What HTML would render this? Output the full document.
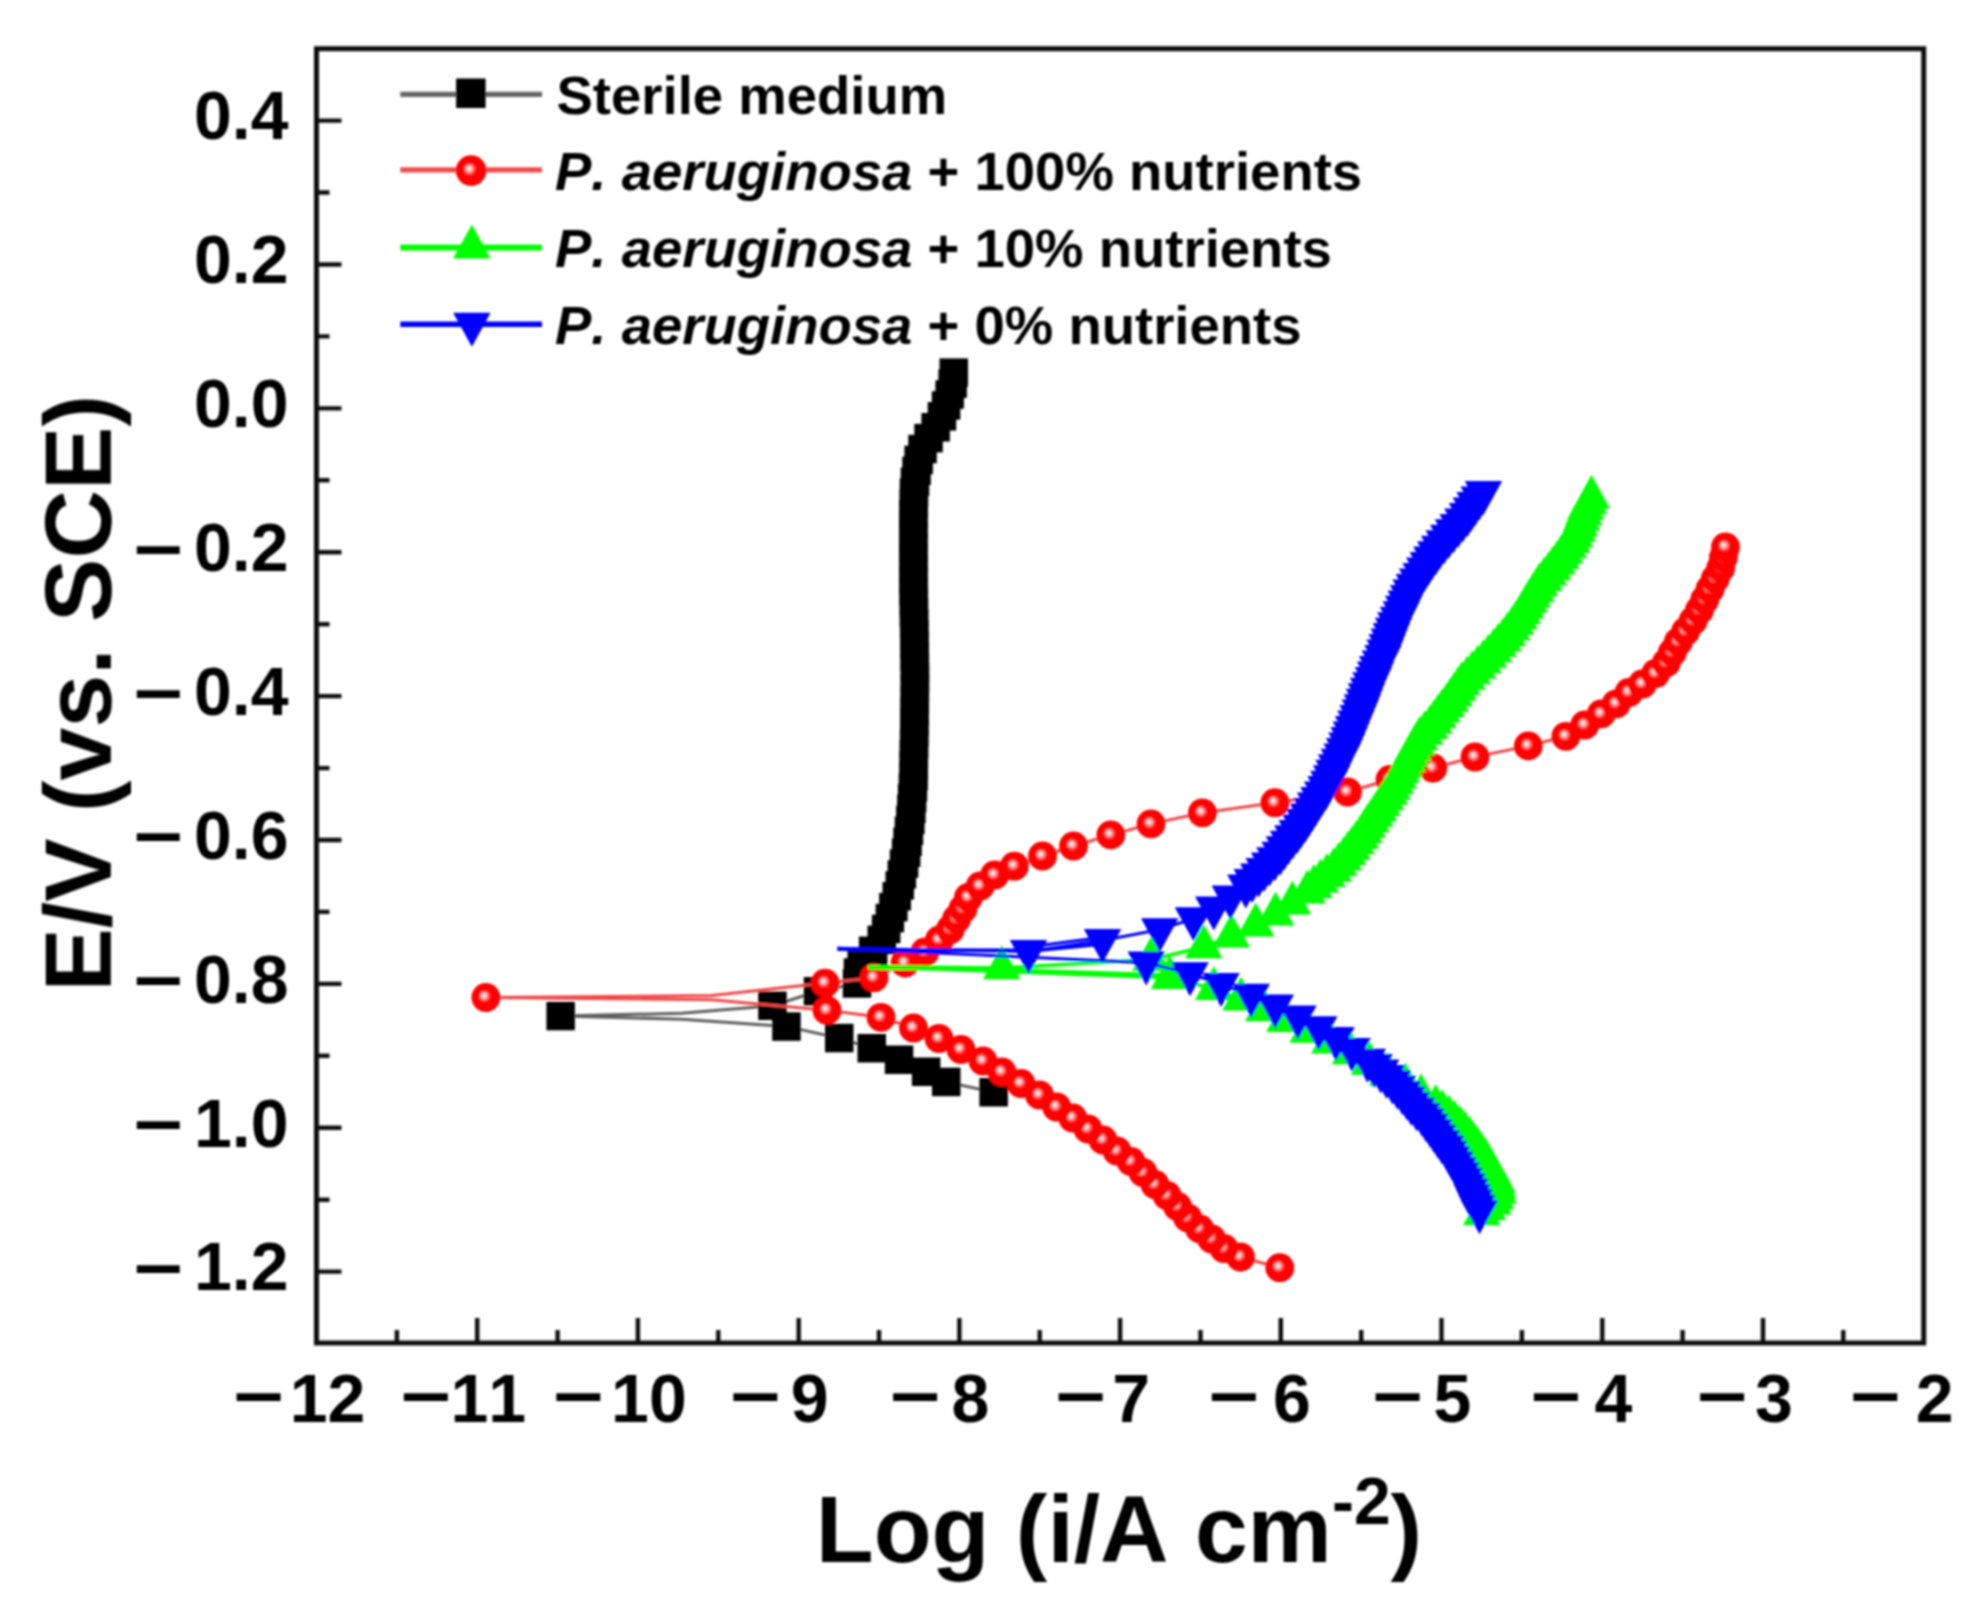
<!DOCTYPE html><html><head><meta charset="utf-8"><title>Potentiodynamic polarization curves</title><style>html,body{margin:0;padding:0;background:#fff}svg{display:block}text{font-family:"Liberation Sans",Arial,Helvetica,sans-serif;font-kerning:none}</style></head><body><svg width="1986" height="1610" viewBox="0 0 1986 1610"><defs><radialGradient id="rg" cx="0.5" cy="0.5" r="0.5" fx="0.42" fy="0.42"><stop offset="0" stop-color="#fff0f0"/><stop offset="0.12" stop-color="#ffd4d4"/><stop offset="0.27" stop-color="#ff7a7a"/><stop offset="0.4" stop-color="#ff0808"/><stop offset="1" stop-color="#ff0000"/></radialGradient><circle id="rc" r="14.4" fill="url(#rg)"/><filter id="bl" x="0" y="0" width="100%" height="100%" filterUnits="userSpaceOnUse"><feGaussianBlur stdDeviation="1.05"/></filter></defs><g filter="url(#bl)" font-family="'Liberation Sans', Arial, Helvetica, sans-serif"><rect x="316.5" y="48.7" width="1607.2" height="1294.3" fill="none" stroke="#111" stroke-width="5.0"/><path d="M396.9 1343V1330M477.2 1343V1318M557.6 1343V1330M637.9 1343V1318M718.3 1343V1330M798.7 1343V1318M879 1343V1330M959.4 1343V1318M1039.7 1343V1330M1120.1 1343V1318M1200.5 1343V1330M1280.8 1343V1318M1361.2 1343V1330M1441.5 1343V1318M1521.9 1343V1330M1602.3 1343V1318M1682.6 1343V1330M1763 1343V1318M1843.3 1343V1330M316.5 120.6H341.5M316.5 192.5H329.5M316.5 264.5H341.5M316.5 336.4H329.5M316.5 408.4H341.5M316.5 480.3H329.5M316.5 552.2H341.5M316.5 624.2H329.5M316.5 696.1H341.5M316.5 768.1H329.5M316.5 840H341.5M316.5 911.9H329.5M316.5 983.9H341.5M316.5 1055.8H329.5M316.5 1127.8H341.5M316.5 1199.7H329.5M316.5 1271.6H341.5" stroke="#111" stroke-width="4.4" fill="none"/><g font-weight="bold" fill="#000"><text font-size="68"><tspan x="288.5" y="139.4" text-anchor="end">0.4</tspan></text><text font-size="68"><tspan x="288.5" y="283.3" text-anchor="end">0.2</tspan></text><text font-size="68"><tspan x="288.5" y="427.2" text-anchor="end">0.0</tspan></text><text font-size="68"><tspan x="133.3" y="573.6" font-size="71.4" textLength="50" lengthAdjust="spacingAndGlyphs">−</tspan><tspan x="288.5" y="571" text-anchor="end">0.2</tspan></text><text font-size="68"><tspan x="133.3" y="717.5" font-size="71.4" textLength="50" lengthAdjust="spacingAndGlyphs">−</tspan><tspan x="288.5" y="714.9" text-anchor="end">0.4</tspan></text><text font-size="68"><tspan x="133.3" y="861.4" font-size="71.4" textLength="50" lengthAdjust="spacingAndGlyphs">−</tspan><tspan x="288.5" y="858.8" text-anchor="end">0.6</tspan></text><text font-size="68"><tspan x="133.3" y="1005.3" font-size="71.4" textLength="50" lengthAdjust="spacingAndGlyphs">−</tspan><tspan x="288.5" y="1002.7" text-anchor="end">0.8</tspan></text><text font-size="68"><tspan x="133.3" y="1149.2" font-size="71.4" textLength="50" lengthAdjust="spacingAndGlyphs">−</tspan><tspan x="288.5" y="1146.6" text-anchor="end">1.0</tspan></text><text font-size="68"><tspan x="133.3" y="1293" font-size="71.4" textLength="50" lengthAdjust="spacingAndGlyphs">−</tspan><tspan x="288.5" y="1290.4" text-anchor="end">1.2</tspan></text><text font-size="68"><tspan x="233" y="1421" font-size="71.4" textLength="51.2" lengthAdjust="spacingAndGlyphs">−</tspan><tspan x="327.5" y="1422.2" text-anchor="middle">12</tspan></text><text font-size="68"><tspan x="400.2" y="1421" font-size="71.4" textLength="51.2" lengthAdjust="spacingAndGlyphs">−</tspan><tspan x="488.2" y="1422.2" text-anchor="middle">11</tspan></text><text font-size="68"><tspan x="552.7" y="1421" font-size="71.4" textLength="51.2" lengthAdjust="spacingAndGlyphs">−</tspan><tspan x="648.9" y="1422.2" text-anchor="middle">10</tspan></text><text font-size="68"><tspan x="729.7" y="1421" font-size="71.4" textLength="51.2" lengthAdjust="spacingAndGlyphs">−</tspan><tspan x="809.7" y="1422.2" text-anchor="middle">9</tspan></text><text font-size="68"><tspan x="889.4" y="1421" font-size="71.4" textLength="51.2" lengthAdjust="spacingAndGlyphs">−</tspan><tspan x="970.4" y="1422.2" text-anchor="middle">8</tspan></text><text font-size="68"><tspan x="1055.1" y="1421" font-size="71.4" textLength="51.2" lengthAdjust="spacingAndGlyphs">−</tspan><tspan x="1131.1" y="1422.2" text-anchor="middle">7</tspan></text><text font-size="68"><tspan x="1208.3" y="1421" font-size="71.4" textLength="51.2" lengthAdjust="spacingAndGlyphs">−</tspan><tspan x="1291.8" y="1422.2" text-anchor="middle">6</tspan></text><text font-size="68"><tspan x="1372" y="1421" font-size="71.4" textLength="51.2" lengthAdjust="spacingAndGlyphs">−</tspan><tspan x="1452.5" y="1422.2" text-anchor="middle">5</tspan></text><text font-size="68"><tspan x="1530.3" y="1421" font-size="71.4" textLength="51.2" lengthAdjust="spacingAndGlyphs">−</tspan><tspan x="1613.3" y="1422.2" text-anchor="middle">4</tspan></text><text font-size="68"><tspan x="1696.5" y="1421" font-size="71.4" textLength="51.2" lengthAdjust="spacingAndGlyphs">−</tspan><tspan x="1774" y="1422.2" text-anchor="middle">3</tspan></text><text font-size="68"><tspan x="1849.7" y="1421" font-size="71.4" textLength="51.2" lengthAdjust="spacingAndGlyphs">−</tspan><tspan x="1934.7" y="1422.2" text-anchor="middle">2</tspan></text></g><text transform="translate(110.8 693.3) rotate(-90)" text-anchor="middle" font-size="95" font-weight="bold">E/V (vs. SCE)</text><text x="815.8" y="1561.5" font-size="94.8" font-weight="bold">Log (i/A cm<tspan font-size="66" dy="-38">-2</tspan><tspan dy="38">)</tspan></text><g fill="none" stroke="#5e5e5e" stroke-width="3"><path d="M953.7 372.7L952.6 383.6L949.6 394.5L946.1 405.4L941.9 416.3L935.6 427.2L928.6 438.1L922.5 449L918.6 460L916.6 470.9L915 481.8L914 492.7L913.7 503.6L913.5 514.5L913.3 525.4L913.4 536.3L913.4 547.2L913.4 558.1L913.5 569L913.5 579.9L913.7 590.8L913.8 601.8L914 612.7L914.2 623.6L914.3 634.5L914.5 645.4L914.6 656.3L914.8 667.2L915 678.1L914.9 689L914.7 699.9L914.5 710.8L914.4 721.7L914.2 732.6L914 743.5L913.9 754.5L913.7 765.4L913.6 776.3L913 787.2L912.1 798.1L911.3 809L910.3 819.9L908.9 830.8L907.6 841.7L906.2 852.6L904 863.5L901.9 874.4L899.7 885.3L896.7 896.2L893.3 907.1L889.9 918.1L886.1 929L881.8 939.9L873.2 950.8L861.8 961.7L857.9 972.6L857 983.5L818 991.3L772.5 1005.8L681.7 1013.2L560.6 1016L681.7 1019.2L786.5 1026.6L839.3 1038.1L871.8 1048.2L899 1059.7L926.1 1071.8L946.3 1081.9L993.6 1092.3"/></g><g fill="#000"><rect x="939.5" y="358.4" width="28.5" height="28.5"/><rect x="938.4" y="369.4" width="28.5" height="28.5"/><rect x="935.4" y="380.3" width="28.5" height="28.5"/><rect x="931.8" y="391.2" width="28.5" height="28.5"/><rect x="927.7" y="402.1" width="28.5" height="28.5"/><rect x="921.4" y="413" width="28.5" height="28.5"/><rect x="914.3" y="423.9" width="28.5" height="28.5"/><rect x="908.3" y="434.8" width="28.5" height="28.5"/><rect x="904.4" y="445.7" width="28.5" height="28.5"/><rect x="902.3" y="456.6" width="28.5" height="28.5"/><rect x="900.7" y="467.5" width="28.5" height="28.5"/><rect x="899.7" y="478.4" width="28.5" height="28.5"/><rect x="899.5" y="489.3" width="28.5" height="28.5"/><rect x="899.2" y="500.2" width="28.5" height="28.5"/><rect x="899.1" y="511.1" width="28.5" height="28.5"/><rect x="899.1" y="522.1" width="28.5" height="28.5"/><rect x="899.1" y="533" width="28.5" height="28.5"/><rect x="899.2" y="543.9" width="28.5" height="28.5"/><rect x="899.2" y="554.8" width="28.5" height="28.5"/><rect x="899.2" y="565.7" width="28.5" height="28.5"/><rect x="899.4" y="576.6" width="28.5" height="28.5"/><rect x="899.6" y="587.5" width="28.5" height="28.5"/><rect x="899.7" y="598.4" width="28.5" height="28.5"/><rect x="899.9" y="609.3" width="28.5" height="28.5"/><rect x="900.1" y="620.2" width="28.5" height="28.5"/><rect x="900.2" y="631.1" width="28.5" height="28.5"/><rect x="900.4" y="642" width="28.5" height="28.5"/><rect x="900.6" y="652.9" width="28.5" height="28.5"/><rect x="900.7" y="663.8" width="28.5" height="28.5"/><rect x="900.6" y="674.8" width="28.5" height="28.5"/><rect x="900.5" y="685.7" width="28.5" height="28.5"/><rect x="900.3" y="696.6" width="28.5" height="28.5"/><rect x="900.1" y="707.5" width="28.5" height="28.5"/><rect x="900" y="718.4" width="28.5" height="28.5"/><rect x="899.8" y="729.3" width="28.5" height="28.5"/><rect x="899.6" y="740.2" width="28.5" height="28.5"/><rect x="899.5" y="751.1" width="28.5" height="28.5"/><rect x="899.3" y="762" width="28.5" height="28.5"/><rect x="898.7" y="772.9" width="28.5" height="28.5"/><rect x="897.9" y="783.8" width="28.5" height="28.5"/><rect x="897.1" y="794.7" width="28.5" height="28.5"/><rect x="896.1" y="805.6" width="28.5" height="28.5"/><rect x="894.7" y="816.5" width="28.5" height="28.5"/><rect x="893.3" y="827.5" width="28.5" height="28.5"/><rect x="891.9" y="838.4" width="28.5" height="28.5"/><rect x="889.8" y="849.3" width="28.5" height="28.5"/><rect x="887.6" y="860.2" width="28.5" height="28.5"/><rect x="885.5" y="871.1" width="28.5" height="28.5"/><rect x="882.5" y="882" width="28.5" height="28.5"/><rect x="879.1" y="892.9" width="28.5" height="28.5"/><rect x="875.6" y="903.8" width="28.5" height="28.5"/><rect x="871.9" y="914.7" width="28.5" height="28.5"/><rect x="867.5" y="925.6" width="28.5" height="28.5"/><rect x="858.9" y="936.5" width="28.5" height="28.5"/><rect x="847.5" y="947.4" width="28.5" height="28.5"/><rect x="843.7" y="958.3" width="28.5" height="28.5"/><rect x="842.8" y="969.2" width="28.5" height="28.5"/><rect x="803.8" y="977" width="28.5" height="28.5"/><rect x="758.2" y="991.5" width="28.5" height="28.5"/><rect x="546.4" y="1001.8" width="28.5" height="28.5"/><rect x="772.2" y="1012.3" width="28.5" height="28.5"/><rect x="825" y="1023.8" width="28.5" height="28.5"/><rect x="857.5" y="1034" width="28.5" height="28.5"/><rect x="884.8" y="1045.5" width="28.5" height="28.5"/><rect x="911.9" y="1057.5" width="28.5" height="28.5"/><rect x="932" y="1067.7" width="28.5" height="28.5"/><rect x="979.4" y="1078" width="28.5" height="28.5"/></g><g fill="none" stroke="#f24646" stroke-width="3"><path d="M1725.5 547L1723.4 557.5L1720.7 568.1L1715.3 578.6L1710 589.2L1704.7 599.7L1699.4 610.2L1693.1 620.8L1685.7 631.3L1678.4 641.8L1672.3 652.4L1666.2 662.9L1655.7 673.5L1642.4 684L1629 692.5L1616.3 703.8L1601.2 713.9L1584.8 725L1565.9 736.3L1528.3 745.9L1475 757L1432.8 768L1390 779.5L1347.5 792L1274.9 802.7L1202.4 812.8L1151 823.9L1110.8 834.9L1073.5 846L1042.5 856L1014.4 866.2L994.7 875L980.2 886L968.4 897.5L963 908.8L956.5 919L950.3 929.5L939.4 940L924.9 952L905 963L874 977.7L825.1 983.1L711.9 995.6L485.9 997.5L711.9 999.8L827 1010.3L881 1017.3L913.5 1028L939 1038.5L961 1049.5L983 1061L1002 1072L1021 1083.5L1039.5 1095L1056.7 1107L1072.8 1118L1088 1129L1103 1140L1117 1151L1131 1161.5L1143 1172.5L1155 1184.5L1167 1195.5L1177.5 1206.5L1187.6 1217.8L1199.7 1228.9L1211.7 1239L1224 1248.5L1240.5 1257L1279.8 1267.7"/></g><g><use href="#rc" x="1279.8" y="1267.7"/><use href="#rc" x="1240.5" y="1257"/><use href="#rc" x="1224" y="1248.5"/><use href="#rc" x="1211.7" y="1239"/><use href="#rc" x="1199.7" y="1228.9"/><use href="#rc" x="1187.6" y="1217.8"/><use href="#rc" x="1177.5" y="1206.5"/><use href="#rc" x="1167" y="1195.5"/><use href="#rc" x="1155" y="1184.5"/><use href="#rc" x="1143" y="1172.5"/><use href="#rc" x="1131" y="1161.5"/><use href="#rc" x="1117" y="1151"/><use href="#rc" x="1103" y="1140"/><use href="#rc" x="1088" y="1129"/><use href="#rc" x="1072.8" y="1118"/><use href="#rc" x="1056.7" y="1107"/><use href="#rc" x="1039.5" y="1095"/><use href="#rc" x="1021" y="1083.5"/><use href="#rc" x="1002" y="1072"/><use href="#rc" x="983" y="1061"/><use href="#rc" x="961" y="1049.5"/><use href="#rc" x="939" y="1038.5"/><use href="#rc" x="913.5" y="1028"/><use href="#rc" x="881" y="1017.3"/><use href="#rc" x="827" y="1010.3"/><use href="#rc" x="485.9" y="997.5"/><use href="#rc" x="825.1" y="983.1"/><use href="#rc" x="874" y="977.7"/><use href="#rc" x="905" y="963"/><use href="#rc" x="924.9" y="952"/><use href="#rc" x="939.4" y="940"/><use href="#rc" x="950.3" y="929.5"/><use href="#rc" x="956.5" y="919"/><use href="#rc" x="963" y="908.8"/><use href="#rc" x="968.4" y="897.5"/><use href="#rc" x="980.2" y="886"/><use href="#rc" x="994.7" y="875"/><use href="#rc" x="1014.4" y="866.2"/><use href="#rc" x="1042.5" y="856"/><use href="#rc" x="1073.5" y="846"/><use href="#rc" x="1110.8" y="834.9"/><use href="#rc" x="1151" y="823.9"/><use href="#rc" x="1202.4" y="812.8"/><use href="#rc" x="1274.9" y="802.7"/><use href="#rc" x="1347.5" y="792"/><use href="#rc" x="1390" y="779.5"/><use href="#rc" x="1432.8" y="768"/><use href="#rc" x="1475" y="757"/><use href="#rc" x="1528.3" y="745.9"/><use href="#rc" x="1565.9" y="736.3"/><use href="#rc" x="1584.8" y="725"/><use href="#rc" x="1601.2" y="713.9"/><use href="#rc" x="1616.3" y="703.8"/><use href="#rc" x="1629" y="692.5"/><use href="#rc" x="1642.4" y="684"/><use href="#rc" x="1655.7" y="673.5"/><use href="#rc" x="1666.2" y="662.9"/><use href="#rc" x="1672.3" y="652.4"/><use href="#rc" x="1678.4" y="641.8"/><use href="#rc" x="1685.7" y="631.3"/><use href="#rc" x="1693.1" y="620.8"/><use href="#rc" x="1699.4" y="610.2"/><use href="#rc" x="1704.7" y="599.7"/><use href="#rc" x="1710" y="589.2"/><use href="#rc" x="1715.3" y="578.6"/><use href="#rc" x="1720.7" y="568.1"/><use href="#rc" x="1723.4" y="557.5"/><use href="#rc" x="1725.5" y="547"/></g><g fill="none" stroke="#00ff00" stroke-width="3.4"><path d="M1591.5 497.5L1585.8 508.5L1581.7 519.4L1577.4 530.4L1571.9 541.4L1564.8 552.3L1557 563.3L1548.5 574.2L1539.5 585.2L1532.4 596.2L1525.7 607.1L1519.2 618.1L1511.7 629.1L1503.1 640L1493.6 651L1483.3 662L1472.3 672.9L1461.8 683.9L1454.1 694.8L1446.4 705.8L1438 716.8L1429.8 727.7L1419.8 738.7L1413.1 749.7L1407.2 760.6L1401.3 771.6L1395.4 782.5L1389.5 793.5L1382 804.5L1375.1 815.4L1367.4 826.4L1360.4 837.4L1352.1 848.3L1343.6 859.3L1333.6 870.3L1320.5 881.2L1307.4 892.2L1292.5 903.1L1275.6 914.1L1255.8 925.1L1231.4 936L1203.8 947L1151 959.5L1001.7 968L868.3 966.5L1169.6 977.8L1213.8 988.5L1241 999.3L1263.8 1010L1284.9 1020.7L1308.2 1031.5L1329.9 1042.2L1350.4 1052.9L1369.6 1063.7L1387.6 1074.4L1405.5 1085.1L1421.1 1095.8L1435.8 1106.6L1449.1 1117.3L1460.5 1128L1469.7 1138.8L1477.9 1149.5L1485.5 1160.2L1491.6 1171L1497.1 1181.7L1498.2 1192.4L1493.3 1203.2L1481.8 1213.9"/><path d="M868.3 968.1L1001.7 969.5M1001.7 969.5L1169.6 975"/></g><g fill="#00ff00"><path d="M1591.5 474.8L1572.8 508.8L1610.2 508.8ZM1588.6 480.3L1569.9 514.3L1607.4 514.3ZM1585.8 485.8L1567 519.8L1604.5 519.8ZM1583.7 491.3L1565 525.3L1602.5 525.3ZM1581.7 496.8L1562.9 530.8L1600.4 530.8ZM1579.5 502.2L1560.8 536.2L1598.3 536.2ZM1577.4 507.7L1558.7 541.7L1596.2 541.7ZM1574.7 513.2L1555.9 547.2L1593.4 547.2ZM1571.9 518.7L1553.2 552.7L1590.7 552.7ZM1568.4 524.2L1549.6 558.2L1587.1 558.2ZM1564.8 529.7L1546 563.7L1583.5 563.7ZM1560.9 535.1L1542.2 569.1L1579.7 569.1ZM1557 540.6L1538.3 574.6L1575.8 574.6ZM1552.8 546.1L1534 580.1L1571.5 580.1ZM1548.5 551.6L1529.8 585.6L1567.3 585.6ZM1544 557.1L1525.3 591.1L1562.8 591.1ZM1539.5 562.5L1520.8 596.5L1558.3 596.5ZM1536 568L1517.2 602L1554.7 602ZM1532.4 573.5L1513.7 607.5L1551.2 607.5ZM1529 579L1510.3 613L1547.8 613ZM1525.7 584.5L1506.9 618.5L1544.4 618.5ZM1522.4 589.9L1503.7 623.9L1541.2 623.9ZM1519.2 595.4L1500.4 629.4L1537.9 629.4ZM1515.4 600.9L1496.7 634.9L1534.2 634.9ZM1511.7 606.4L1492.9 640.4L1530.4 640.4ZM1507.4 611.9L1488.6 645.9L1526.1 645.9ZM1503.1 617.4L1484.4 651.4L1521.9 651.4ZM1498.3 622.8L1479.6 656.8L1517.1 656.8ZM1493.6 628.3L1474.8 662.3L1512.3 662.3ZM1488.4 633.8L1469.7 667.8L1507.2 667.8ZM1483.3 639.3L1464.5 673.3L1502 673.3ZM1477.8 644.8L1459 678.8L1496.5 678.8ZM1472.3 650.2L1453.5 684.2L1491 684.2ZM1467 655.7L1448.3 689.7L1485.8 689.7ZM1461.8 661.2L1443 695.2L1480.5 695.2ZM1457.9 666.7L1439.2 700.7L1476.7 700.7ZM1454.1 672.2L1435.4 706.2L1472.9 706.2ZM1450.2 677.7L1431.5 711.7L1469 711.7ZM1446.4 683.1L1427.6 717.1L1465.1 717.1ZM1442.2 688.6L1423.4 722.6L1460.9 722.6ZM1438 694.1L1419.2 728.1L1456.7 728.1ZM1433.9 699.6L1415.2 733.6L1452.7 733.6ZM1429.8 705.1L1411.1 739.1L1448.6 739.1ZM1424.8 710.5L1406.1 744.5L1443.6 744.5ZM1419.8 716L1401 750L1438.5 750ZM1416.4 721.5L1397.7 755.5L1435.2 755.5ZM1413.1 727L1394.3 761L1431.8 761ZM1410.1 732.5L1391.4 766.5L1428.9 766.5ZM1407.2 738L1388.4 772L1425.9 772ZM1404.2 743.4L1385.5 777.4L1423 777.4ZM1401.3 748.9L1382.5 782.9L1420 782.9ZM1398.3 754.4L1379.6 788.4L1417.1 788.4ZM1395.4 759.9L1376.6 793.9L1414.1 793.9ZM1392.4 765.4L1373.7 799.4L1411.2 799.4ZM1389.5 770.8L1370.7 804.8L1408.2 804.8ZM1385.8 776.3L1367 810.3L1404.5 810.3ZM1382 781.8L1363.3 815.8L1400.8 815.8ZM1378.6 787.3L1359.8 821.3L1397.3 821.3ZM1375.1 792.8L1356.3 826.8L1393.8 826.8ZM1371.2 798.3L1352.5 832.3L1390 832.3ZM1367.4 803.7L1348.6 837.7L1386.1 837.7ZM1363.9 809.2L1345.2 843.2L1382.7 843.2ZM1360.4 814.7L1341.7 848.7L1379.2 848.7ZM1356.3 820.2L1337.5 854.2L1375 854.2ZM1352.1 825.7L1333.3 859.7L1370.8 859.7ZM1347.8 831.1L1329.1 865.1L1366.6 865.1ZM1343.6 836.6L1324.8 870.6L1362.3 870.6ZM1338.6 842.1L1319.8 876.1L1357.3 876.1ZM1333.6 847.6L1314.8 881.6L1352.3 881.6ZM1327 853.1L1308.3 887.1L1345.8 887.1ZM1320.5 858.6L1301.7 892.6L1339.2 892.6ZM1313.9 864L1295.2 898L1332.7 898ZM1307.4 869.5L1288.6 903.5L1326.1 903.5ZM1292.5 880.5L1273.7 914.5L1311.2 914.5ZM1275.6 891.4L1256.8 925.4L1294.3 925.4ZM1255.8 902.4L1237 936.4L1274.5 936.4ZM1231.4 913.4L1212.6 947.4L1250.1 947.4ZM1203.8 924.3L1185 958.3L1222.5 958.3ZM1151 936.8L1132.2 970.8L1169.8 970.8ZM1001.7 945.3L983 979.3L1020.5 979.3Z"/><path d="M1169.6 955.1L1150.8 989.1L1188.3 989.1ZM1213.8 965.9L1195 999.9L1232.5 999.9ZM1241 976.6L1222.2 1010.6L1259.7 1010.6ZM1263.8 987.3L1245 1021.3L1282.5 1021.3ZM1284.9 998.1L1266.2 1032.1L1303.7 1032.1ZM1308.2 1008.8L1289.4 1042.8L1326.9 1042.8ZM1329.9 1019.5L1311.1 1053.5L1348.6 1053.5ZM1350.4 1030.3L1331.7 1064.3L1369.2 1064.3ZM1369.6 1041L1350.8 1075L1388.3 1075ZM1387.6 1051.7L1368.9 1085.7L1406.4 1085.7ZM1405.5 1062.5L1386.7 1096.5L1424.2 1096.5ZM1421.1 1073.2L1402.4 1107.2L1439.9 1107.2ZM1435.8 1083.9L1417 1117.9L1454.5 1117.9ZM1442.4 1089.3L1423.7 1123.3L1461.2 1123.3ZM1449.1 1094.6L1430.3 1128.6L1467.8 1128.6ZM1454.8 1100L1436 1134L1473.5 1134ZM1460.5 1105.4L1441.8 1139.4L1479.3 1139.4ZM1465.1 1110.7L1446.4 1144.7L1483.9 1144.7ZM1469.7 1116.1L1451 1150.1L1488.5 1150.1ZM1473.8 1121.5L1455 1155.5L1492.5 1155.5ZM1477.9 1126.8L1459.1 1160.8L1496.6 1160.8ZM1481.7 1132.2L1462.9 1166.2L1500.4 1166.2ZM1485.5 1137.6L1466.8 1171.6L1504.3 1171.6ZM1488.6 1142.9L1469.8 1176.9L1507.3 1176.9ZM1491.6 1148.3L1472.9 1182.3L1510.4 1182.3ZM1494.4 1153.7L1475.6 1187.7L1513.1 1187.7ZM1497.1 1159L1478.4 1193L1515.9 1193ZM1497.7 1164.4L1478.9 1198.4L1516.4 1198.4ZM1498.2 1169.8L1479.5 1203.8L1517 1203.8ZM1495.8 1175.1L1477 1209.1L1514.5 1209.1ZM1493.3 1180.5L1474.6 1214.5L1512.1 1214.5ZM1487.6 1185.9L1468.8 1219.9L1506.3 1219.9ZM1481.8 1191.2L1463 1225.2L1500.5 1225.2Z"/></g><g fill="none" stroke="#0000ff" stroke-width="3"><path d="M1483.4 492.4L1475.2 503.3L1467.5 514.3L1458.2 525.2L1448.8 536.1L1439.7 547L1431.9 558L1424.7 568.9L1417.6 579.8L1411.1 590.8L1406.2 601.7L1401.2 612.6L1395.8 623.5L1391.3 634.5L1387.1 645.4L1383 656.3L1377.6 667.3L1373.5 678.2L1368.5 689.1L1364.3 700L1360.3 711L1355.8 721.9L1351.3 732.8L1346.9 743.8L1342.2 754.7L1336.6 765.6L1331.6 776.5L1326.1 787.5L1319 798.4L1312.1 809.3L1305 820.3L1297.2 831.2L1288.5 842.1L1280.2 853L1269.6 864L1258.7 874.9L1245.8 885.8L1230.4 896.8L1213.8 907.7L1193.5 918.6L1159.7 929.5L1102.5 940.5L1028.6 951.4L837.4 948.3L1146.2 962.7L1190 973.5L1221.1 984.3L1251.2 995.2L1275.2 1006L1297.9 1016.8L1318.8 1027.6L1336 1038.4L1352.1 1049.2L1367.4 1060.1L1380.7 1070.9L1392.4 1081.7L1402.4 1092.5L1411.4 1103.3L1422 1114.1L1430 1125L1437.8 1135.8L1445.7 1146.6L1451.7 1157.4L1458.2 1168.2L1464 1179L1469.9 1189.9L1474.5 1200.7L1479.5 1211.5"/><path d="M837.4 949.5L1028.6 950M1028.6 947L1100.8 937.5M1028.6 951.4L1100.8 944.5"/></g><g fill="#0000ff"><path d="M1483.4 515.1L1464.7 481.1L1502.2 481.1ZM1479.3 520.5L1460.5 486.5L1498 486.5ZM1475.2 526L1456.4 492L1493.9 492ZM1471.3 531.5L1452.6 497.5L1490.1 497.5ZM1467.5 536.9L1448.7 502.9L1486.2 502.9ZM1462.8 542.4L1444.1 508.4L1481.6 508.4ZM1458.2 547.9L1439.4 513.9L1476.9 513.9ZM1453.5 553.3L1434.7 519.3L1472.2 519.3ZM1448.8 558.8L1430 524.8L1467.5 524.8ZM1444.2 564.2L1425.5 530.2L1463 530.2ZM1439.7 569.7L1420.9 535.7L1458.4 535.7ZM1435.8 575.2L1417 541.2L1454.5 541.2ZM1431.9 580.6L1413.1 546.6L1450.6 546.6ZM1428.3 586.1L1409.6 552.1L1447.1 552.1ZM1424.7 591.6L1406 557.6L1443.5 557.6ZM1421.2 597L1402.4 563L1439.9 563ZM1417.6 602.5L1398.8 568.5L1436.3 568.5ZM1414.3 608L1395.6 574L1433.1 574ZM1411.1 613.4L1392.4 579.4L1429.9 579.4ZM1408.6 618.9L1389.9 584.9L1427.4 584.9ZM1406.2 624.4L1387.4 590.4L1424.9 590.4ZM1403.7 629.8L1384.9 595.8L1422.4 595.8ZM1401.2 635.3L1382.5 601.3L1420 601.3ZM1398.5 640.7L1379.7 606.7L1417.2 606.7ZM1395.8 646.2L1377 612.2L1414.5 612.2ZM1393.6 651.7L1374.8 617.7L1412.3 617.7ZM1391.3 657.1L1372.6 623.1L1410.1 623.1ZM1389.2 662.6L1370.5 628.6L1408 628.6ZM1387.1 668.1L1368.4 634.1L1405.9 634.1ZM1385.1 673.5L1366.3 639.5L1403.8 639.5ZM1383 679L1364.3 645L1401.8 645ZM1380.3 684.5L1361.6 650.5L1399.1 650.5ZM1377.6 689.9L1358.8 655.9L1396.3 655.9ZM1375.5 695.4L1356.8 661.4L1394.3 661.4ZM1373.5 700.9L1354.7 666.9L1392.2 666.9ZM1371 706.3L1352.2 672.3L1389.7 672.3ZM1368.5 711.8L1349.8 677.8L1387.3 677.8ZM1366.4 717.2L1347.7 683.2L1385.2 683.2ZM1364.3 722.7L1345.6 688.7L1383.1 688.7ZM1362.3 728.2L1343.6 694.2L1381.1 694.2ZM1360.3 733.6L1341.6 699.6L1379.1 699.6ZM1358.1 739.1L1339.3 705.1L1376.8 705.1ZM1355.8 744.6L1337.1 710.6L1374.6 710.6ZM1353.6 750L1334.8 716L1372.3 716ZM1351.3 755.5L1332.6 721.5L1370.1 721.5ZM1349.1 761L1330.4 727L1367.9 727ZM1346.9 766.4L1328.2 732.4L1365.7 732.4ZM1344.5 771.9L1325.8 737.9L1363.3 737.9ZM1342.2 777.4L1323.4 743.4L1360.9 743.4ZM1339.4 782.8L1320.6 748.8L1358.1 748.8ZM1336.6 788.3L1317.8 754.3L1355.3 754.3ZM1334.1 793.7L1315.3 759.7L1352.8 759.7ZM1331.6 799.2L1312.9 765.2L1350.4 765.2ZM1328.8 804.7L1310.1 770.7L1347.6 770.7ZM1326.1 810.1L1307.3 776.1L1344.8 776.1ZM1322.5 815.6L1303.8 781.6L1341.3 781.6ZM1319 821.1L1300.2 787.1L1337.7 787.1ZM1315.6 826.5L1296.8 792.5L1334.3 792.5ZM1312.1 832L1293.4 798L1330.9 798ZM1308.6 837.5L1289.8 803.5L1327.3 803.5ZM1305 842.9L1286.2 808.9L1323.7 808.9ZM1301.1 848.4L1282.3 814.4L1319.8 814.4ZM1297.2 853.9L1278.4 819.9L1315.9 819.9ZM1292.8 859.3L1274.1 825.3L1311.6 825.3ZM1288.5 864.8L1269.8 830.8L1307.3 830.8ZM1284.4 870.2L1265.6 836.2L1303.1 836.2ZM1280.2 875.7L1261.4 841.7L1298.9 841.7ZM1274.9 881.2L1256.2 847.2L1293.7 847.2ZM1269.6 886.6L1250.9 852.6L1288.4 852.6ZM1264.1 892.1L1245.4 858.1L1282.9 858.1ZM1258.7 897.6L1239.9 863.6L1277.4 863.6ZM1252.3 903L1233.5 869L1271 869ZM1245.8 908.5L1227.1 874.5L1264.6 874.5ZM1230.4 919.4L1211.6 885.4L1249.1 885.4ZM1213.8 930.4L1195 896.4L1232.5 896.4ZM1193.5 941.3L1174.7 907.3L1212.2 907.3ZM1159.7 952.2L1141 918.2L1178.5 918.2ZM1102.5 963.1L1083.8 929.1L1121.3 929.1ZM1028.6 974.1L1009.8 940.1L1047.3 940.1Z"/><path d="M1146.2 985.4L1127.5 951.4L1165 951.4ZM1190 996.2L1171.3 962.2L1208.8 962.2ZM1221.1 1007L1202.3 973L1239.8 973ZM1251.2 1017.8L1232.5 983.8L1270 983.8ZM1275.2 1028.6L1256.5 994.6L1294 994.6ZM1297.9 1039.5L1279.2 1005.5L1316.7 1005.5ZM1318.8 1050.3L1300 1016.3L1337.5 1016.3ZM1336 1061.1L1317.3 1027.1L1354.8 1027.1ZM1352.1 1071.9L1333.4 1037.9L1370.9 1037.9ZM1367.4 1082.7L1348.7 1048.7L1386.2 1048.7ZM1374.1 1088.1L1355.3 1054.1L1392.8 1054.1ZM1380.7 1093.5L1361.9 1059.5L1399.4 1059.5ZM1386.5 1098.9L1367.8 1064.9L1405.3 1064.9ZM1392.4 1104.4L1373.6 1070.4L1411.1 1070.4ZM1397.4 1109.8L1378.6 1075.8L1416.1 1075.8ZM1402.4 1115.2L1383.7 1081.2L1421.2 1081.2ZM1406.9 1120.6L1388.1 1086.6L1425.6 1086.6ZM1411.4 1126L1392.6 1092L1430.1 1092ZM1416.7 1131.4L1398 1097.4L1435.5 1097.4ZM1422 1136.8L1403.3 1102.8L1440.8 1102.8ZM1426 1142.2L1407.2 1108.2L1444.7 1108.2ZM1430 1147.6L1411.2 1113.6L1448.7 1113.6ZM1433.9 1153L1415.1 1119L1452.6 1119ZM1437.8 1158.4L1419 1124.4L1456.5 1124.4ZM1441.7 1163.9L1423 1129.9L1460.5 1129.9ZM1445.7 1169.3L1427 1135.3L1464.5 1135.3ZM1448.7 1174.7L1430 1140.7L1467.5 1140.7ZM1451.7 1180.1L1433 1146.1L1470.5 1146.1ZM1454.9 1185.5L1436.2 1151.5L1473.7 1151.5ZM1458.2 1190.9L1439.4 1156.9L1476.9 1156.9ZM1461.1 1196.3L1442.4 1162.3L1479.9 1162.3ZM1464 1201.7L1445.3 1167.7L1482.8 1167.7ZM1467 1207.1L1448.2 1173.1L1485.7 1173.1ZM1469.9 1212.5L1451.2 1178.5L1488.7 1178.5ZM1472.2 1217.9L1453.4 1183.9L1490.9 1183.9ZM1474.5 1223.3L1455.7 1189.3L1493.2 1189.3ZM1477 1228.8L1458.2 1194.8L1495.7 1194.8ZM1479.5 1234.2L1460.8 1200.2L1498.2 1200.2Z"/></g><path d="M400.3 94.3H542" stroke="#666" stroke-width="5.2" fill="none"/><rect x="456.1" y="78.5" width="29.5" height="29.5" fill="#000"/><path d="M400.3 169.9H542" stroke="#f24c4c" stroke-width="5.2" fill="none"/><use href="#rc" x="0" y="0" transform="translate(471.1 170.6) scale(1.06) translate(0 0)"/><path d="M400.3 247.5H542" stroke="#00ff00" stroke-width="6" fill="none"/><g fill="#00ff00"><path d="M471.9 224.6L453.1 258.6L490.6 258.6Z"/></g><path d="M400.3 324.2H542" stroke="#0000ff" stroke-width="5.4" fill="none"/><g fill="#0000ff"><path d="M471.9 346.7L453.1 312.7L490.6 312.7Z"/></g><g font-size="54.5" font-weight="bold" fill="#000"><text x="556.5" y="113.5">Sterile medium</text><text x="555" y="190.4"><tspan font-style="italic">P. aeruginosa</tspan> + 100% nutrients</text><text x="555" y="267.2"><tspan font-style="italic">P. aeruginosa</tspan> + 10% nutrients</text><text x="555" y="344"><tspan font-style="italic">P. aeruginosa</tspan> + 0% nutrients</text></g></g></svg></body></html>
